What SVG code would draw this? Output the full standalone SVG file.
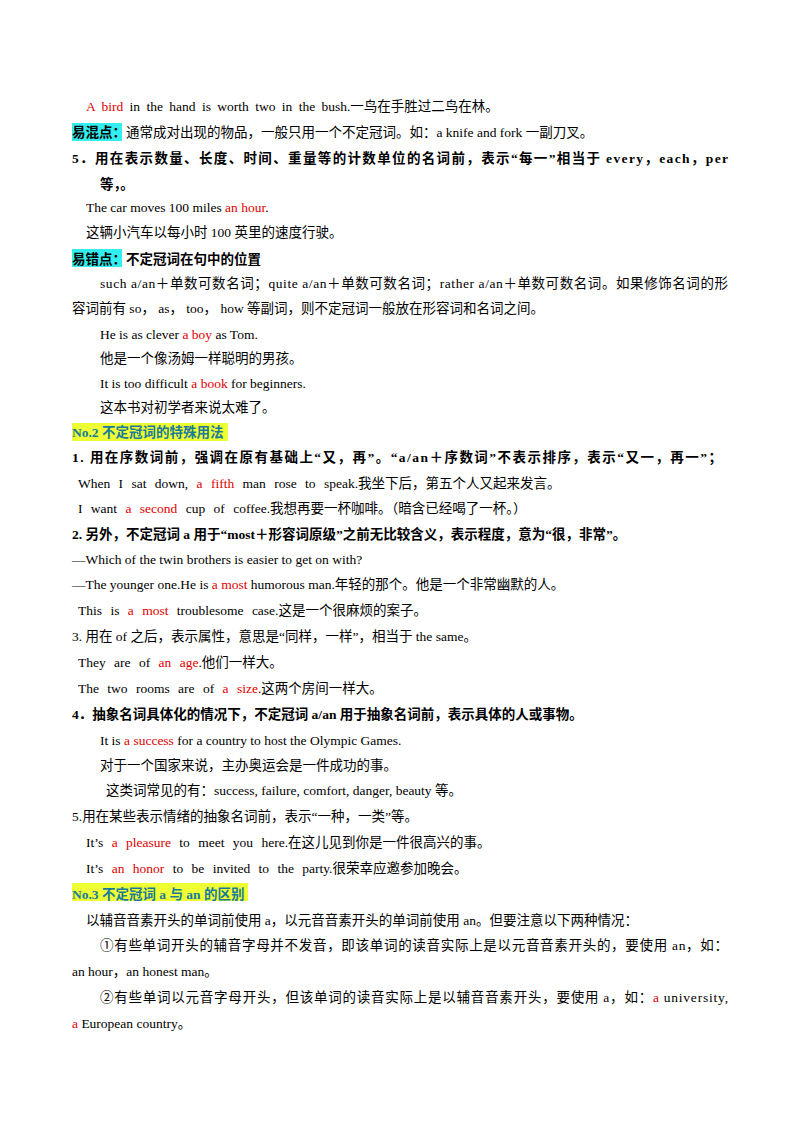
<svg xmlns="http://www.w3.org/2000/svg" width="800" height="1132" viewBox="0 0 800 1132">
<style>
text{font-family:"Liberation Serif","Noto Sans CJK SC",serif;font-size:13.5px;fill:#000}
.b{font-weight:bold}
.r{fill:#e00000}
.h{fill:#1a7a9a;font-weight:bold}
</style>
<rect width="800" height="1132" fill="#fff"/>
<rect x="72" y="123" width="50" height="18" fill="#33eeee"/>
<rect x="72" y="249" width="50" height="18" fill="#33eeee"/>
<rect x="72" y="423" width="156" height="18" fill="#eeff33"/>
<rect x="72" y="883" width="176" height="18" fill="#eeff33"/>
<text x="86" y="111" word-spacing="3"><tspan class="r">A bird</tspan> in the hand is worth two in the bush.一鸟在手胜过二鸟在林。</text>
<text x="72" y="137"><tspan class="b">易混点：</tspan>通常成对出现的物品，一般只用一个不定冠词。如：a knife and fork 一副刀叉。</text>
<text x="72" y="163" class="b" textLength="656" lengthAdjust="spacing">5．用在表示数量、长度、时间、重量等的计数单位的名词前，表示“每一”相当于 every，each，per</text>
<text x="100" y="189" class="b">等，。</text>
<text x="86" y="212">The car moves 100 miles <tspan class="r">an hour</tspan>.</text>
<text x="86" y="237">这辆小汽车以每小时 100 英里的速度行驶。</text>
<text x="72" y="264" class="b">易错点：不定冠词在句中的位置</text>
<text x="100" y="288" textLength="628" lengthAdjust="spacing">such a/an＋单数可数名词；quite a/an＋单数可数名词；rather a/an＋单数可数名词。如果修饰名词的形</text>
<text x="72" y="313">容词前有 so，  as，  too，  how 等副词，则不定冠词一般放在形容词和名词之间。</text>
<text x="100" y="339">He is as clever <tspan class="r">a</tspan> <tspan class="r">boy</tspan> as Tom.</text>
<text x="100" y="363">他是一个像汤姆一样聪明的男孩。</text>
<text x="100" y="388">It is too difficult <tspan class="r">a</tspan> <tspan class="r">book</tspan> for beginners.</text>
<text x="100" y="412">这本书对初学者来说太难了。</text>
<text x="72" y="437" class="h">No.2 不定冠词的特殊用法</text>
<text x="72" y="462" class="b" textLength="650" lengthAdjust="spacing">1. 用在序数词前，强调在原有基础上“又，再”。“a/an＋序数词”不表示排序，表示“又一，再一”；</text>
<text x="78" y="488" word-spacing="5">When I sat down, <tspan class="r">a fifth</tspan> man rose to speak.我坐下后，第五个人又起来发言。</text>
<text x="78" y="513" word-spacing="5">I want <tspan class="r">a second</tspan> cup of coffee.我想再要一杯咖啡。（暗含已经喝了一杯。）</text>
<text x="72" y="539" class="b">2. 另外，不定冠词 a 用于“most＋形容词原级”之前无比较含义，表示程度，意为“很，非常”。</text>
<text x="72" y="564">—Which of the twin brothers is easier to get on with?</text>
<text x="72" y="589">—The younger one.He is <tspan class="r">a most</tspan> humorous man.年轻的那个。他是一个非常幽默的人。</text>
<text x="78" y="615" word-spacing="5">This is <tspan class="r">a most</tspan> troublesome case.这是一个很麻烦的案子。</text>
<text x="72" y="641">3. 用在 of 之后，表示属性，意思是“同样，一样”，相当于 the same。</text>
<text x="78" y="667" word-spacing="5">They are of <tspan class="r">an age</tspan>.他们一样大。</text>
<text x="78" y="693" word-spacing="5">The two rooms are of <tspan class="r">a size</tspan>.这两个房间一样大。</text>
<text x="72" y="719" class="b">4．抽象名词具体化的情况下，不定冠词 a/an 用于抽象名词前，表示具体的人或事物。</text>
<text x="100" y="745">It is <tspan class="r">a</tspan> <tspan class="r">success</tspan> for a country to host the Olympic Games.</text>
<text x="100" y="770">对于一个国家来说，主办奥运会是一件成功的事。</text>
<text x="106" y="795">这类词常见的有：success, failure, comfort, danger, beauty 等。</text>
<text x="72" y="821">5.用在某些表示情绪的抽象名词前，表示“一种，一类”等。</text>
<text x="86" y="847" word-spacing="5">It’s <tspan class="r">a pleasure</tspan> to meet you here.在这儿见到你是一件很高兴的事。</text>
<text x="86" y="873" word-spacing="5">It’s <tspan class="r">an honor</tspan> to be invited to the party.很荣幸应邀参加晚会。</text>
<text x="72" y="899" class="h">No.3 不定冠词 a 与 an 的区别</text>
<text x="86" y="925">以辅音音素开头的单词前使用 a，以元音音素开头的单词前使用 an。但要注意以下两种情况：</text>
<text x="100" y="950" textLength="628" lengthAdjust="spacing">①有些单词开头的辅音字母并不发音，即该单词的读音实际上是以元音音素开头的，要使用 an，如：</text>
<text x="72" y="976">an hour，an honest man。</text>
<text x="100" y="1002" textLength="628" lengthAdjust="spacing">②有些单词以元音字母开头，但该单词的读音实际上是以辅音音素开头，要使用 a，如：<tspan class="r">a</tspan> university,</text>
<text x="72" y="1028"><tspan class="r">a</tspan> European country。</text>
</svg>
